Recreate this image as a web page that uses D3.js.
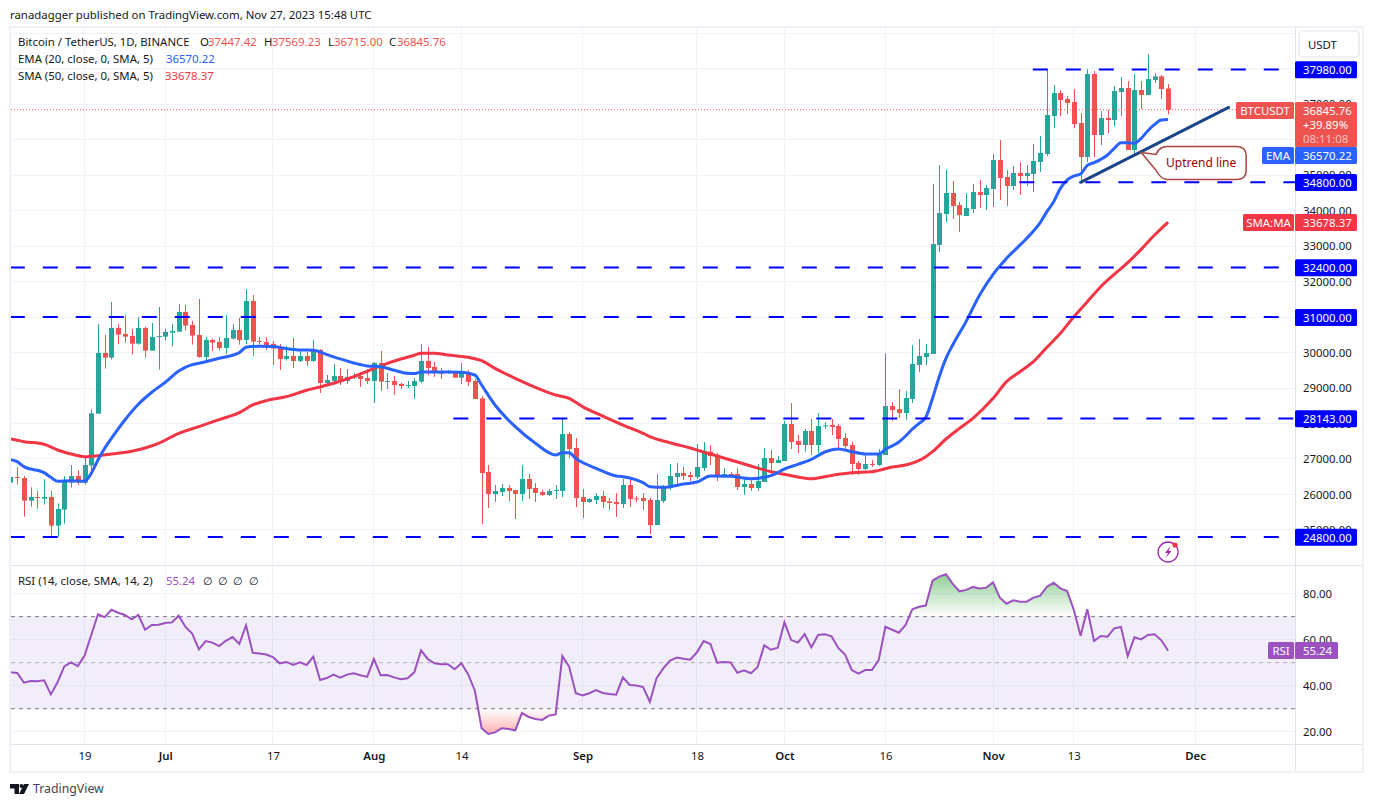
<!DOCTYPE html>
<html>
<head>
<meta charset="utf-8">
<style>
  html, body { margin: 0; padding: 0; background: #fff; }
  svg { display: block; }
  text { font-family: "Noto Sans", sans-serif; }
</style>
<script src="https://cdn.jsdelivr.net/npm/d3@7"></script>
</head>
<body>
<div id="chart"></div>
<script>
// daily candles, one per day from Jun 8 2023
const opens = [26332,26490,26464,25825,25928,25881,25928,25120,25571,26332,26520,26332,26812,28278,29989,29857,30694,30525,30468,30252,
  30694,30055,30449,30449,30562,30590,31145,30778,30496,29876,30355,30299,30130,30393,30637,30355,31455,30327,30299,30243,
  30130,29820,29904,29763,29904,29763,30073,29143,29199,29340,29199,29293,29340,29284,29199,29707,29180,29199,29115,29058,
  29058,29180,29763,29594,29453,29425,29442,29292,29423,29198,28709,26632,26012,26069,26181,26125,26012,26435,26181,26069,
  25984,26106,26097,27704,27309,25928,25787,25843,25956,25805,25787,25730,26266,25890,25899,25843,25138,25815,26181,26491,
  26604,26548,26491,26745,27206,27112,26520,26576,26576,26210,26294,26181,26351,27027,26886,26943,27986,27506,27394,27788,
  27394,27929,27957,27929,27591,27394,26886,26717,26858,26830,27112,28493,28408,28296,28690,29649,29874,29959,33032,33906,
  34498,34159,33849,34047,34526,34441,34610,35428,34949,34695,35062,34977,35033,35372,35597,36668,37317,37148,37063,36471,
  35513,37852,36133,36612,36556,37345,37458,35710,37401,37260,37683,37786,37447.42];
const highs = [26802,26765,26520,26201,26097,26426,26097,25749,26520,26830,26689,27037,28400,30807,30496,31427,30807,31051,30666,31004,
  30731,30835,31286,30666,30807,31371,31342,30891,31512,30440,30393,30440,31060,30807,30976,31794,31624,30440,30440,30327,
  30243,30186,30412,30073,30017,30355,30102,29368,29679,29566,29538,29425,29453,29538,29735,30045,29425,29340,29143,29199,
  29284,30243,30158,29735,29566,29510,29470,29705,29508,29254,28775,26830,26266,26294,26266,26125,26830,26576,26322,26125,
  26153,26266,28155,27760,27591,26153,25899,26040,26097,25899,26040,26435,26435,25956,26040,25899,26576,26266,26858,26886,
  26773,26632,27422,27478,27394,27168,26745,26632,26745,26435,26407,26858,27309,27253,27083,28070,28578,27675,27845,28127,
  28296,28042,28127,27986,27732,27478,26943,27112,26971,27281,29987,28606,28972,28916,30213,30382,30241,34751,35287,35146,
  34836,34244,34498,34751,34864,34723,35597,35992,35146,35259,35372,35287,35879,36105,37965,37542,37401,37232,37430,36753,
  37993,37937,36809,36838,37514,37768,37655,37852,37655,38416,37881,37824,37569.23];
const lows = [26219,26276,25373,25655,25599,25712,24838,24810,25176,26191,26266,26276,26652,28278,29547,29801,30243,30280,29942,30224,
  29857,30055,29519,30337,30167,30581,30619,30224,29857,29716,30045,30073,29961,30365,30224,30243,29904,30224,30073,29650,
  29509,29773,29566,29735,29622,29735,28861,29058,29086,29086,29115,29256,29030,29115,28579,28917,28974,28804,28974,29002,
  28692,29143,29368,29312,29256,29400,29292,29113,29057,28690,25166,25618,25787,25956,25815,25307,25815,25871,25787,25956,
  25956,25871,25928,27027,25646,25336,25758,25730,25618,25561,25364,25618,25646,25787,25561,24885,25138,25758,26125,26210,
  26407,26379,26435,26661,26830,26379,26463,26491,26125,25984,26097,26097,26351,26689,26886,26943,27281,27168,27206,27112,
  27168,27845,27675,27253,27253,26548,26548,26689,26773,26802,27112,28070,28155,28098,28578,29452,29649,29959,32834,33680,
  33765,33398,33849,33934,34075,34018,34103,34300,34131,34582,34441,34695,34526,35090,35541,36330,36668,36725,36330,34808,
  35372,35513,35851,36189,36387,36668,35710,35597,36866,37260,37599,37148,36715];
const closes = [26492,26473,25825,25928,25900,25928,25120,25590,26360,26520,26332,26830,28287,29989,29857,30694,30506,30449,30252,30694,
  30055,30440,30468,30581,30609,31145,30760,30478,29876,30355,30280,30130,30412,30637,30355,31455,30308,30308,30214,30111,
  29820,29904,29763,29904,29763,30073,29143,29227,29340,29199,29312,29340,29256,29199,29707,29180,29199,29086,29058,29086,
  29199,29763,29566,29425,29397,29453,29292,29423,29170,28690,26604,26012,26097,26181,26097,26012,26435,26153,26040,25984,
  26097,26125,27704,27281,25899,25787,25871,25956,25787,25758,25730,26266,25871,25871,25815,25138,25843,26210,26520,26604,
  26520,26491,26773,27206,27083,26548,26576,26520,26210,26294,26181,26379,27027,26886,26971,27986,27478,27394,27788,27394,
  27929,27948,27901,27563,27365,26858,26717,26858,26830,27140,28493,28380,28296,28719,29677,29903,29987,33060,33934,34498,
  34131,33878,34075,34526,34441,34639,35428,34921,34695,35062,34977,35062,35400,35625,36697,37317,37119,37035,36443,35513,
  37852,36133,36612,36556,37373,37458,35710,37401,37260,37711,37786,37430,36845.76];

// moving averages at these candle numbers
const emaDays = [0,1,2,5,6,7,9,11,12,13,14,15,17,19,21,23,25,27,28,31,34,35,37,39,41,43,45,47,49,51,53,55,57,59,60,61,65,67,69,70,72,75,78,81,82,83,84,87,90,91,94,95,97,100,102,104,107,110,113,115,117,119,121,123,125,127,129,130,132,133,134,135,136,137,138,139,140,142,144,146,148,151,153,154,155,156,157,158,159,160,161,162,163,164,165,166,167,168,169,170,171,172];
const emaValues = [26981,26924,26783,26614,26483,26370,26389,26370,26595,26971,27300,27582,28099,28541,28880,29162,29481,29660,29697,29838,29998,30149,30177,30168,30111,30073,30064,29942,29820,29707,29622,29603,29500,29415,29406,29453,29453,29442,29367,29085,28521,27910,27441,27112,27177,27177,27018,26736,26520,26501,26332,26219,26200,26294,26350,26520,26510,26444,26529,26717,26849,26990,27196,27281,27206,27140,27140,27271,27478,27647,27845,28004,28173,28709,29320,29837,30213,30880,31622,32205,32656,33220,33661,33972,34253,34629,34864,34977,35033,35278,35353,35447,35569,35757,35917,35917,35898,36039,36255,36433,36556,36570.22];
const smaDays = [0,2,5,7,9,11,13,15,18,20,22,25,28,31,34,36,38,41,44,46,48,51,53,56,58,60,61,63,65,68,70,72,75,78,81,83,85,88,91,94,95,98,101,104,107,110,113,115,117,119,121,123,125,128,129,131,133,136,137,139,141,143,146,148,150,152,154,156,158,160,162,164,166,168,170,172];
const smaValues = [27564,27488,27413,27253,27141,27065,27094,27141,27216,27310,27441,27723,27911,28109,28306,28522,28645,28757,28936,29030,29133,29321,29472,29697,29820,29923,29979,29979,29932,29865,29771,29555,29273,29019,28803,28709,28474,28211,27957,27722,27629,27459,27309,27140,26971,26802,26642,26567,26491,26444,26501,26567,26614,26642,26679,26773,26830,27065,27206,27563,27863,28145,28709,29179,29461,29743,30147,30542,31011,31434,31857,32205,32534,32910,33314,33678.37];

const rsiValues = [45.8,45.5,41.3,42,41.9,42.3,36.2,41.5,48.4,50.1,48.5,53,62,71,69.8,73,71.7,70.7,68.8,70.7,
  64.3,66.4,66.5,67.2,67.5,70.4,65.5,62.6,55.8,59.4,58.7,57.2,59.5,61.1,58.1,66.2,54.3,54,53.5,52.4,
  49.7,50.3,49,50.1,49,52.6,42.5,43.3,44.8,43.5,44.8,45.4,44.5,43.8,51.6,44.5,44.6,43.6,42.8,43.2,
  45.8,55.3,51.6,49.7,49.3,49.3,47.1,49.7,45,37.8,21.5,19,19.7,21.5,21.2,20.6,28.1,26.4,25.5,25.1,
  27,27.5,52.9,48.3,36.7,35.8,36.7,38.1,36.8,36.4,36.1,43.6,40.3,40.1,39.4,33,43.3,47.5,50.9,52.2,
  51.7,51.3,54.5,59.4,58.1,50,50.3,50.1,45.6,46.7,45.4,48,57.5,55.6,56.5,67.5,59.8,58.7,62.4,56.6,
  62,62.3,61.4,56.4,53.5,46.8,45.2,46.8,46.8,51.1,65.6,64.3,63,66.4,73.2,74.3,74.8,85.6,87.4,88.4,
  84.2,81,81.6,82.9,82.2,82.6,84.9,78.2,75.6,77.1,76.5,76.5,78.2,79.1,83,84.7,82.3,81.1,72.9,61.7,
  73.2,59.4,61.6,61.3,64.9,65.5,52.9,61,60.1,62,62.3,59.7,55.24];

// horizontal levels and where they begin
const levels = [37980, 34800, 32400, 31000, 28143, 24800];
const levelFrom = [151.9, 149.9, -0.1, -0.1, 65.8, -0.1];
const trendDays = [159, 181];
const trendPrices = [34800, 36910];

const priceTicks = d3.range(25000, 39001, 1000);
const hiddenTicks = [36000, 38000, 39000]; // fully behind the tags in the right column
const rsiTicks = [20, 40, 60, 80];
const timeTicks = [[2023,5,19,"19"],[2023,6,1,"Jul"],[2023,6,17,"17"],[2023,7,1,"Aug"],[2023,7,14,"14"],[2023,8,1,"Sep"],
  [2023,8,18,"18"],[2023,9,1,"Oct"],[2023,9,16,"16"],[2023,10,1,"Nov"],[2023,10,13,"13"],[2023,11,1,"Dec"]];

const paneLeft = 11, paneRight = 1295, paneTop = 28, paneMid = 565, paneBottom = 744;
const fontSize = 11.4;

const day = i => new Date(Date.UTC(2023, 5, 8) + i * 864e5);

const x = d3.scaleUtc()
  .domain([new Date(Date.UTC(2023, 5, 19)), new Date(Date.UTC(2023, 11, 1))])
  .range([84.5, 1195]);
const y = d3.scaleLinear().domain([24800, 37980]).range([537, 69.5]);
const yRsi = d3.scaleLinear().domain([20, 80]).range([731.7, 593.6]);

const svg = d3.select("#chart").append("svg").attr("width", 1373).attr("height", 807);

const defs = svg.append("defs");
defs.append("clipPath").attr("id", "priceClip").append("rect")
  .attr("x", paneLeft).attr("y", paneTop).attr("width", paneRight - paneLeft).attr("height", paneMid - paneTop);
defs.append("clipPath").attr("id", "topClip").append("rect")
  .attr("x", paneLeft).attr("y", paneMid).attr("width", paneRight - paneLeft).attr("height", yRsi(70) - paneMid);
defs.append("clipPath").attr("id", "lowClip").append("rect")
  .attr("x", paneLeft).attr("y", yRsi(30)).attr("width", paneRight - paneLeft).attr("height", paneBottom - yRsi(30));

const gradGreen = defs.append("linearGradient").attr("id", "overbought").attr("gradientUnits", "userSpaceOnUse")
  .attr("x1", 0).attr("x2", 0).attr("y1", yRsi(88)).attr("y2", yRsi(70));
gradGreen.append("stop").attr("offset", 0).attr("stop-color", "#4caf50").attr("stop-opacity", 0.6);
gradGreen.append("stop").attr("offset", 1).attr("stop-color", "#4caf50").attr("stop-opacity", 0);
const gradRed = defs.append("linearGradient").attr("id", "oversold").attr("gradientUnits", "userSpaceOnUse")
  .attr("x1", 0).attr("x2", 0).attr("y1", yRsi(30)).attr("y2", yRsi(19));
gradRed.append("stop").attr("offset", 0).attr("stop-color", "#ff5252").attr("stop-opacity", 0);
gradRed.append("stop").attr("offset", 1).attr("stop-color", "#ff5252").attr("stop-opacity", 0.45);

// grid
const grid = svg.append("g").attr("stroke", "#f0f3fa").attr("stroke-width", 1).attr("shape-rendering", "crispEdges");
grid.selectAll(".v").data(timeTicks).enter().append("line")
  .attr("x1", d => x(new Date(Date.UTC(d[0], d[1], d[2]))))
  .attr("x2", d => x(new Date(Date.UTC(d[0], d[1], d[2]))))
  .attr("y1", paneTop).attr("y2", paneBottom);
grid.selectAll(".h").data(priceTicks).enter().append("line")
  .attr("x1", paneLeft).attr("x2", paneRight).attr("y1", d => y(d)).attr("y2", d => y(d));
grid.selectAll(".r").data(rsiTicks).enter().append("line")
  .attr("x1", paneLeft).attr("x2", paneRight).attr("y1", d => yRsi(d)).attr("y2", d => yRsi(d));

// candles
const upColor = "#26a69a", downColor = "#ef5350";
const candles = svg.append("g").attr("clip-path", "url(#priceClip)");
const candle = candles.selectAll("g").data(opens).enter().append("g")
  .attr("fill", (d, i) => closes[i] >= d ? upColor : downColor);
candle.append("rect")
  .attr("x", (d, i) => Math.round(x(day(i))))
  .attr("width", 1)
  .attr("y", (d, i) => y(highs[i]))
  .attr("height", (d, i) => y(lows[i]) - y(highs[i]));
candle.append("rect")
  .attr("x", (d, i) => Math.round(x(day(i))) - 2)
  .attr("width", 5)
  .attr("y", (d, i) => y(Math.max(d, closes[i])))
  .attr("height", (d, i) => Math.max(1, Math.abs(y(d) - y(closes[i]))));

// moving averages
const avgLine = days => d3.line().x((d, i) => x(day(days[i]))).y(d => y(d)).curve(d3.curveMonotoneX);
const lines = svg.append("g").attr("clip-path", "url(#priceClip)").attr("fill", "none");
lines.append("path").attr("d", avgLine(smaDays)(smaValues)).attr("stroke", "#f23645").attr("stroke-width", 3);
lines.append("path").attr("d", avgLine(emaDays)(emaValues)).attr("stroke", "#2962ff").attr("stroke-width", 3);

// last price dotted line
svg.append("line")
  .attr("x1", paneLeft).attr("x2", 1236)
  .attr("y1", y(closes[closes.length - 1])).attr("y2", y(closes[closes.length - 1]))
  .attr("stroke", "#ef5350").attr("stroke-dasharray", "1 2");

// levels
svg.append("g").selectAll("line").data(levels).enter().append("line")
  .attr("x1", (d, i) => x(day(levelFrom[i]))).attr("x2", paneRight)
  .attr("y1", d => y(d)).attr("y2", d => y(d))
  .attr("stroke", "#0000ff").attr("stroke-width", 2).attr("stroke-dasharray", "15 18");

// uptrend line and its callout
svg.append("line")
  .attr("x1", x(day(trendDays[0]))).attr("y1", y(trendPrices[0]))
  .attr("x2", x(day(trendDays[1]))).attr("y2", y(trendPrices[1]))
  .attr("stroke", "#1c4587").attr("stroke-width", 3).attr("stroke-linecap", "round");

const callout = svg.append("g").attr("transform", `translate(${x(day(168))},${y(35640)})`);
callout.append("path")
  .attr("d", "M0 0 L15 2 Q18 -6 26 -6 H95 Q105 -6 105 3 V18 Q105 27 95 27 H26 Q20 27 15 18 Z")
  .attr("fill", "#fff").attr("stroke", "#a94442").attr("stroke-width", 1.5);
callout.append("text").attr("x", 60).attr("y", 14.5).attr("text-anchor", "middle")
  .attr("font-size", 12).attr("fill", "#990000").text("Uptrend line");

// rsi pane
svg.append("rect").attr("x", paneLeft).attr("width", paneRight - paneLeft)
  .attr("y", yRsi(70)).attr("height", yRsi(30) - yRsi(70))
  .attr("fill", "#7e57c2").attr("fill-opacity", 0.1);
const rsiGuides = [70, 50, 30];
svg.append("g").selectAll("line").data(rsiGuides).enter().append("line")
  .attr("x1", paneLeft).attr("x2", paneRight).attr("y1", d => yRsi(d)).attr("y2", d => yRsi(d))
  .attr("stroke", "#787b86").attr("stroke-opacity", d => d === 50 ? 0.55 : 1).attr("stroke-dasharray", "4 4");

const rsiArea = d3.area().x((d, i) => x(day(i))).y1(d => yRsi(d));
svg.append("path").attr("clip-path", "url(#topClip)").attr("fill", "url(#overbought)")
  .attr("d", rsiArea.y0(yRsi(70))(rsiValues));
svg.append("path").attr("clip-path", "url(#lowClip)").attr("fill", "url(#oversold)")
  .attr("d", rsiArea.y0(yRsi(30))(rsiValues));
svg.append("path").attr("fill", "none").attr("stroke", "#9b51bf").attr("stroke-width", 2)
  .attr("d", d3.line().x((d, i) => x(day(i))).y(d => yRsi(d))(rsiValues));

// frame
const frame = svg.append("g").attr("shape-rendering", "crispEdges");
frame.append("rect").attr("x", 10).attr("y", 27).attr("width", 1353).attr("height", 745)
  .attr("fill", "none").attr("stroke", "#f0f1f6").attr("stroke-width", 2);
frame.append("line").attr("x1", paneRight).attr("x2", paneRight).attr("y1", paneTop).attr("y2", 771).attr("stroke", "#e0e3eb");
frame.append("line").attr("x1", paneLeft).attr("x2", 1362).attr("y1", paneMid).attr("y2", paneMid).attr("stroke", "#e0e3eb");
frame.append("line").attr("x1", paneLeft).attr("x2", 1362).attr("y1", paneBottom).attr("y2", paneBottom).attr("stroke", "#e0e3eb");

// axes
const axisRight = svg.append("g").attr("transform", `translate(${paneRight},0)`)
  .call(d3.axisRight(y).tickValues(priceTicks.filter(d => !hiddenTicks.includes(d))).tickFormat(d3.format(".2f")).tickSize(0).tickPadding(8));
const axisRsi = svg.append("g").attr("transform", `translate(${paneRight},0)`)
  .call(d3.axisRight(yRsi).tickValues(rsiTicks).tickFormat(d3.format(".2f")).tickSize(0).tickPadding(8));
const axisTime = svg.append("g").attr("transform", `translate(0,${paneBottom})`)
  .call(d3.axisBottom(x).tickValues(timeTicks.map(d => new Date(Date.UTC(d[0], d[1], d[2]))))
    .tickFormat((d, i) => timeTicks[i][3]).tickSize(0).tickPadding(8));
[axisRight, axisRsi, axisTime].forEach(a => {
  a.select(".domain").remove();
  a.selectAll("text").attr("font-size", fontSize).attr("fill", "#131722").style("font-family", '"Noto Sans", sans-serif');
});
axisTime.selectAll("text").attr("font-weight", (d, i) => isNaN(+timeTicks[i][3]) ? 600 : 400);

// price labels on the right
function tag(top, h, left, fill, name, lines) {
  const g = svg.append("g");
  g.append("rect").attr("x", paneRight).attr("y", top).attr("width", 62).attr("height", h).attr("rx", 1.5).attr("fill", fill);
  lines.forEach((t, i) => {
    g.append("text").attr("x", paneRight + 8).attr("y", top + 12.7 + i * 14.3).attr("font-size", fontSize)
      .attr("fill", "#fff").attr("fill-opacity", i === 2 ? 0.65 : 1).text(t);
  });
  if (name) {
    g.append("rect").attr("x", left).attr("y", top).attr("width", paneRight - 1 - left).attr("height", 17).attr("rx", 1.5).attr("fill", fill);
    g.append("text").attr("x", (left + paneRight - 1) / 2).attr("y", top + 12.7).attr("text-anchor", "middle")
      .attr("font-size", fontSize).attr("fill", "#fff").text(name);
  }
  return g;
}
levels.forEach(d => tag(y(d) - 8.2, 17, 0, "#0000ff", null, [d3.format(".2f")(d)]));
tag(102, 45, 1236, "#ef5350", "BTCUSDT", ["36845.76", "+39.89%", "08:11:08"]);
tag(147, 17, 1262, "#2962ff", "EMA", ["36570.22"]);
tag(y(33678.37) - 8.2, 17, 1243, "#f23645", "SMA:MA", ["33678.37"]);
const rsiTag = tag(642, 17, 1268, "#9b51bf", "RSI", ["55.24"]);
rsiTag.select("rect").attr("width", 43);

svg.append("rect").attr("x", 1299).attr("y", 31).attr("width", 60).attr("height", 26).attr("rx", 4)
  .attr("fill", "#fff").attr("stroke", "#e0e3eb").attr("stroke-width", 1.2);
svg.append("text").attr("x", 1308).attr("y", 49).attr("font-size", fontSize).attr("fill", "#131722").text("USDT");

// legend text
function label(tx, ty, t, fill) {
  svg.append("text").attr("x", tx).attr("y", ty).attr("font-size", fontSize).attr("fill", fill || "#131722").text(t);
}
label(10, 19, "ranadagger published on TradingView.com, Nov 27, 2023 15:48 UTC");
label(18, 46, "Bitcoin / TetherUS, 1D, BINANCE");
label(200, 46, "O"); label(208, 46, "37447.42", downColor);
label(264, 46, "H"); label(272, 46, "37569.23", downColor);
label(328, 46, "L"); label(334, 46, "36715.00", downColor);
label(389, 46, "C"); label(397, 46, "36845.76", downColor);
label(18, 63, "EMA (20, close, 0, SMA, 5)"); label(166, 63, "36570.22", "#2962ff");
label(18, 80, "SMA (50, close, 0, SMA, 5)"); label(165, 80, "33678.37", "#f23645");
label(18, 585, "RSI (14, close, SMA, 14, 2)"); label(166, 585, "55.24", "#9b51bf");
[203, 218, 233, 249].forEach(tx => label(tx, 585, "∅"));

// alert icon
const bolt = svg.append("g").attr("transform", `translate(${x(day(172))},552)`);
bolt.append("circle").attr("r", 10).attr("fill", "none").attr("stroke", "#9c27b0").attr("stroke-width", 1.3);
bolt.append("path").attr("d", "M2.5 -6 L-3 1 H0 L-2.5 6 L3.5 -1 H0.5 Z").attr("fill", "#9c27b0");
bolt.append("circle").attr("cx", 7).attr("cy", -7).attr("r", 2.6).attr("fill", "#f23645");

// footer logo
const logo = svg.append("g").attr("fill", "#131722");
logo.append("path").attr("d", "M10 784 H19 V794 H14.5 V788.5 H10 Z");
logo.append("circle").attr("cx", 21.5).attr("cy", 786).attr("r", 2);
logo.append("path").attr("d", "M24 784 H29 L24 794 H19 Z");
svg.append("text").attr("x", 33).attr("y", 793).attr("font-size", 12.3).attr("fill", "#434651").text("TradingView");
</script>
</body>
</html>
